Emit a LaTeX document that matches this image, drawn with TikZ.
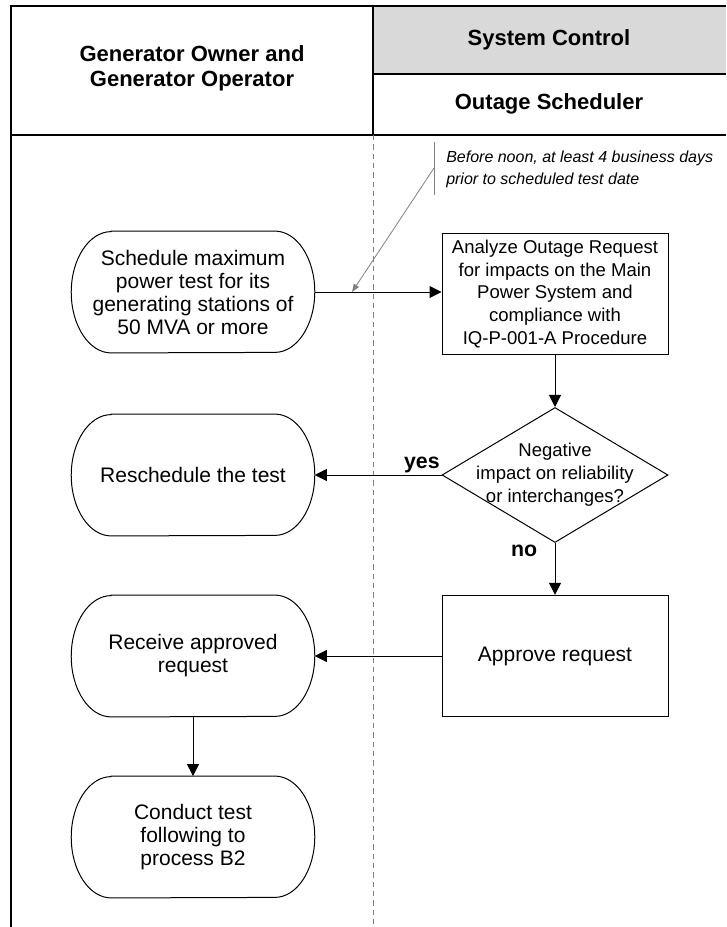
\documentclass[tikz,border=0pt]{standalone}
\usepackage{fontspec}
\setmainfont{Liberation Sans}
\usepackage{tikz}
\usetikzlibrary{%
  positioning,%
  shapes.geometric,%
  arrows.meta%
}
\newcommand{\termoutline}[1]{%
  \draw[line width=0.75pt] ([xshift=30pt]#1.north west) -- ([xshift=-30pt]#1.north east)
    arc[start angle=90, end angle=-90, x radius=30pt, y radius=45.5pt]
    -- ([xshift=30pt]#1.south west)
    arc[start angle=270, end angle=90, x radius=30pt, y radius=45.5pt] -- cycle;}

\begin{document}
\begin{tikzpicture}[x=0.75pt, y=-0.75pt,
  flowline/.style={-{Triangle[length=9pt,width=9pt]}, line width=0.75pt},
  noteline/.style={-{Triangle[length=6pt,width=4.5pt]}, gray, line width=0.6pt},
  procbox/.style={draw, line width=0.75pt, minimum width=169.5pt, minimum height=91pt, inner sep=0pt, align=center},
  terminal/.style={minimum width=182.25pt, minimum height=91pt, inner sep=0pt, align=center, font=\fontsize{15.75}{17.25}\selectfont},
  decision/.style={draw, diamond, line width=0.75pt, minimum width=169.5pt, minimum height=101.25pt, inner sep=0pt},
  lanehead/.style={font=\bfseries\fontsize{16.5}{18.75}\selectfont, align=center},
  answer/.style={font=\bfseries\fontsize{16}{18}\selectfont, inner sep=1pt}
]
\useasboundingbox (0,0) rectangle (726,927);

% swimlane frame
\fill[gray!30] (373,6) rectangle (726,74);
\draw[line width=1.5pt] (11,927) -- (11,6) -- (726,6);
\draw[line width=1.5pt] (373,6) -- (373,135);
\draw[line width=1.5pt] (11,135) -- (726,135);
\draw[line width=1pt] (373,74) -- (726,74);
\draw[gray, line width=0.75pt, dash pattern=on 4pt off 3pt] (373,135) -- (373,927);

\node[lanehead] (goo) at (192,68) {Generator Owner and\\Generator Operator};
\node[lanehead] (sysctl) at (549,40) {System Control};
\node[lanehead] (osched) at (549,104) {Outage Scheduler};

% generator owner lane
\node[terminal] (sched) at (193,292) {Schedule maximum\\power test for its\\generating stations of\\50 MVA or more};
\node[terminal] (resched) at (193,475) {Reschedule the test};
\node[terminal] (receive) at (193,656) {Receive approved\\request};
\node[terminal] (conduct) at (193,837) {Conduct test\\following to\\process B2};
\foreach \n in {sched,resched,receive,conduct} {\termoutline{\n}}

% outage scheduler lane
\node[procbox, font=\fontsize{13.9}{16.9}\selectfont] (analyze) at (555,294) {Analyze Outage Request\\for impacts on the Main\\Power System and\\compliance with\\IQ-P-001-A Procedure};
\node[decision, label={[align=center, font=\fontsize{13.9}{17.25}\selectfont]center:Negative\\impact on reliability\\or interchanges?}] (decide) at (555,475) {};
\node[procbox, font=\fontsize{15.75}{17.25}\selectfont] (approve) at (555,656) {Approve request};

% note
\node[anchor=west, align=left, inner sep=0pt, font=\itshape\fontsize{12}{16.5}\selectfont] (note) at (446,169) {Before noon, at least 4 business days\\prior to scheduled test date};
\coordinate (brtop) at (434,142);
\coordinate (brbot) at (434,195);
\coordinate (brmid) at (434,168);
\coordinate (notetip) at (352,292);
\draw[gray, line width=0.75pt] (brtop) -- (brbot);
\draw[noteline] (brmid) -- (notetip);

\draw[flowline] (sched.east) -- (sched.east -| analyze.west);
\draw[flowline] (analyze) -- (decide);
\draw[flowline] (decide.west) -- node[answer, at start, anchor=south east] {yes} (resched.east);
\draw[flowline] (decide.south) -- node[answer, at start, anchor=north east, xshift=-12pt] {no} (approve.north);
\draw[flowline] (approve) -- (receive);
\draw[flowline] (receive) -- (conduct);
\end{tikzpicture}
\end{document}
